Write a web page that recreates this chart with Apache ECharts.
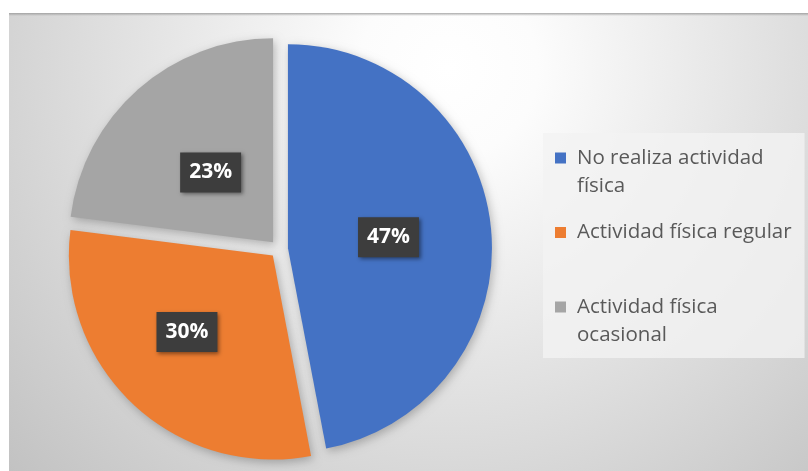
<!DOCTYPE html>
<html>
<head>
<meta charset="utf-8">
<script src="https://cdn.jsdelivr.net/npm/echarts@6/dist/echarts.min.js"></script>
<style>
  html, body { margin: 0; padding: 0; background: #ffffff; }
  #chart { width: 808px; height: 471px; }
</style>
</head>
<body>
<div id="chart"></div>
<script>
const categories = ['No realiza actividad física', 'Actividad física regular', 'Actividad física ocasional'];
const values = [47, 30, 23];
const legendLabels = ['No realiza actividad\nfísica', 'Actividad física regular\n ', 'Actividad física\nocasional'];
const colors = ['#4472C4', '#ED7D31', '#A5A5A5'];
const labelShift = [[-4, 0], [-14, 1], [7, 10]];

const chart = echarts.init(document.getElementById('chart'), null, { renderer: 'canvas' });

const option = {
  animation: false,
  color: colors,
  graphic: {
    elements: [
      {
        type: 'rect', z: -100, silent: true,
        shape: { x: 9, y: 13, width: 799, height: 458 },
        style: {
          fill: new echarts.graphic.RadialGradient(0.55, 0.12, 1.3, [
            { offset: 0, color: '#ffffff' },
            { offset: 0.15, color: '#fcfcfc' },
            { offset: 0.62, color: '#dcdcdc' },
            { offset: 1, color: '#c2c2c2' }
          ])
        }
      },
      {
        type: 'rect', z: -99, silent: true,
        shape: { x: 9, y: 13, width: 799, height: 3 },
        style: {
          fill: new echarts.graphic.LinearGradient(0, 0, 0, 1, [
            { offset: 0, color: 'rgba(150,150,150,0.8)' },
            { offset: 1, color: 'rgba(150,150,150,0)' }
          ])
        }
      }
    ]
  },
  legend: {
    orient: 'vertical',
    left: 543,
    top: 133,
    padding: [11, 13, 9, 12],
    backgroundColor: 'rgba(243,243,243,0.8)',
    itemGap: 18.5,
    itemWidth: 17,
    itemHeight: 56,
    icon: 'path://M0,8.5h11v11h-11z M0,0h17 M0,56h17',
    itemStyle: { borderWidth: 0 },
    selectedMode: false,
    data: categories,
    formatter: function (name) { return legendLabels[categories.indexOf(name)]; },
    textStyle: {
      fontFamily: 'Open Sans',
      fontSize: 20.5,
      lineHeight: 28,
      color: '#595959'
    }
  },
  series: [{
    type: 'pie',
    center: [279, 249],
    radius: 204,
    startAngle: 90,
    clockwise: true,
    selectedMode: 'multiple',
    selectedOffset: 9,
    percentPrecision: 0,
    avoidLabelOverlap: false,
    itemStyle: {
      borderWidth: 0,
      shadowBlur: 10,
      shadowColor: 'rgba(0,0,0,0.25)',
      shadowOffsetX: 2,
      shadowOffsetY: 3
    },
    emphasis: { disabled: true },
    select: { itemStyle: { borderWidth: 0 } },
    label: {
      show: true,
      position: 'inside',
      formatter: '{d}%',
      fontFamily: 'Open Sans',
      fontWeight: 'bold',
      fontSize: 21,
      color: '#ffffff',
      backgroundColor: '#3d3d3d',
      padding: [10, 9, 9, 9],
      shadowColor: 'rgba(0,0,0,0.45)',
      shadowBlur: 4,
      shadowOffsetX: 2,
      shadowOffsetY: 2
    },
    labelLine: { show: false },
    labelLayout: function (params) {
      const s = labelShift[params.dataIndex];
      return { dx: s[0], dy: s[1] - 1 };
    },
    data: categories.map(function (c, i) {
      return { name: c, value: values[i], selected: true };
    })
  }]
};

chart.setOption(option);
</script>
</body>
</html>
